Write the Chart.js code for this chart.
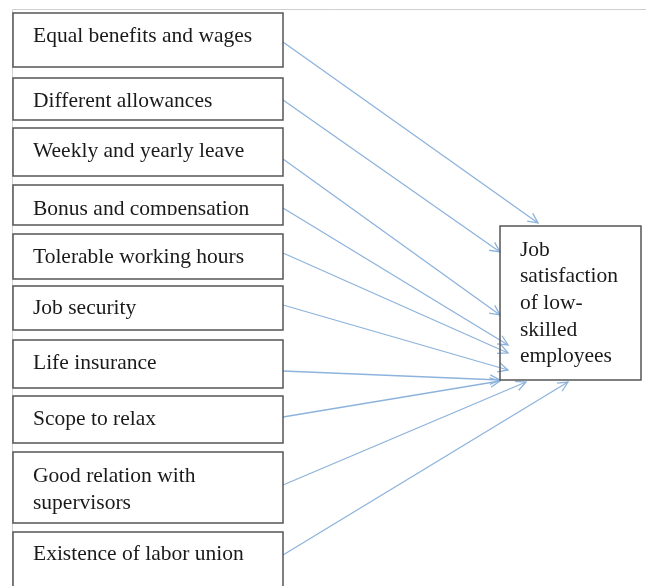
<!DOCTYPE html>
<html>
<head>
<meta charset="utf-8">
<script src="https://cdn.jsdelivr.net/npm/chart.js@4/dist/chart.umd.min.js"></script>
<style>
  html, body { margin: 0; padding: 0; background: #fff; }
  canvas { display: block; }
</style>
</head>
<body>
<canvas id="diagram" width="646" height="586"></canvas>
<script>
// factors (left column), one or more text lines each
const factorLabels = [
    ["Equal benefits and wages"],
    ["Different allowances"],
    ["Weekly and yearly leave"],
    ["Bonus and compensation"],
    ["Tolerable working hours"],
    ["Job security"],
    ["Life insurance"],
    ["Scope to relax"],
    ["Good relation with", "supervisors"],
    ["Existence of labor union"]
];
const outcomeLabel = ["Job", "satisfaction", "of low-", "skilled", "employees"];

// box extents along the vertical axis (diagram units)
const boxTop    = [13, 78, 128, 185, 234, 286, 340, 396, 452, 532];
const boxBottom = [67, 120, 176, 225, 279, 330, 388, 443, 523, 600];
const textY     = [36, 101, 151, 209, 257, 308, 363, 419, 476, 554];

// where each arrow leaves a factor box and where it lands on the outcome box
const arrowFromY = [42, 100, 159, 208, 253, 305, 371, 417, 485, 555];
const arrowToX   = [538, 500, 500, 508, 508, 508, 500, 500, 526, 568];
const arrowToY   = [223, 252, 315, 345, 353, 370, 380, 381, 382, 382];

const leftBox = { x0: 13, x1: 283 };
const outcomeBox = { x0: 500, x1: 641, y0: 226, y1: 380 };

const arrowColor = "#8db3dc";
const boxColor = "#555555";
const textColor = "#1a1a1a";
const serif = "'Liberation Serif', 'Times New Roman', serif";

function arrowDatasets(){
    return arrowFromY.map(function(y, i){
        return {
            label: factorLabels[i].join(" "),
            data: [{x: leftBox.x1, y: y}, {x: arrowToX[i], y: arrowToY[i]}],
            showLine: true,
            borderColor: arrowColor,
            borderWidth: 1.3,
            pointRadius: 0,
            fill: false
        };
    });
}

const boxesPlugin = {
    id: "boxes",
    beforeDatasetsDraw: function(chart){
        const ctx = chart.ctx;
        const sx = chart.scales.x, sy = chart.scales.y;
        ctx.save();
        // light frame along the top and left
        ctx.strokeStyle = "#cfcfcf";
        ctx.lineWidth = 1;
        ctx.beginPath();
        ctx.moveTo(sx.getPixelForValue(646), sy.getPixelForValue(9.5));
        ctx.lineTo(sx.getPixelForValue(12.5), sy.getPixelForValue(9.5));
        ctx.lineTo(sx.getPixelForValue(12.5), sy.getPixelForValue(586));
        ctx.stroke();
        ctx.restore();
    },
    afterDatasetsDraw: function(chart){
        const ctx = chart.ctx;
        const sx = chart.scales.x, sy = chart.scales.y;
        ctx.save();

        // arrowheads (open chevrons)
        ctx.strokeStyle = arrowColor;
        ctx.lineWidth = 1.3;
        arrowFromY.forEach(function(y, i){
            const x0 = sx.getPixelForValue(leftBox.x1), y0 = sy.getPixelForValue(y);
            const x1 = sx.getPixelForValue(arrowToX[i]), y1 = sy.getPixelForValue(arrowToY[i]);
            const a = Math.atan2(y1 - y0, x1 - x0);
            const len = 11, spread = 0.45;
            ctx.beginPath();
            ctx.moveTo(x1 - len * Math.cos(a - spread), y1 - len * Math.sin(a - spread));
            ctx.lineTo(x1, y1);
            ctx.lineTo(x1 - len * Math.cos(a + spread), y1 - len * Math.sin(a + spread));
            ctx.stroke();
        });

        // factor boxes
        ctx.font = "21.5px " + serif;
        ctx.textBaseline = "middle";
        ctx.textAlign = "left";
        factorLabels.forEach(function(lines, i){
            const x = sx.getPixelForValue(leftBox.x0), w = sx.getPixelForValue(leftBox.x1) - x;
            const y = sy.getPixelForValue(boxTop[i]), h = sy.getPixelForValue(boxBottom[i]) - y;
            ctx.fillStyle = "#fff";
            ctx.fillRect(x, y, w, h);
            ctx.strokeStyle = boxColor;
            ctx.lineWidth = 1.5;
            ctx.strokeRect(x, y, w, h);
            ctx.save();
            ctx.beginPath();
            // the original clips the 4th label just above its bottom edge
            const clipBottom = i === 3 ? sy.getPixelForValue(215) : y + h;
            ctx.rect(x, y, w, clipBottom - y);
            ctx.clip();
            ctx.fillStyle = textColor;
            lines.forEach(function(t, k){
                ctx.fillText(t, sx.getPixelForValue(33), sy.getPixelForValue(textY[i] + k * 27));
            });
            ctx.restore();
        });

        // outcome box
        const ox = sx.getPixelForValue(outcomeBox.x0), oy = sy.getPixelForValue(outcomeBox.y0);
        const ow = sx.getPixelForValue(outcomeBox.x1) - ox, oh = sy.getPixelForValue(outcomeBox.y1) - oy;
        ctx.strokeStyle = boxColor;
        ctx.lineWidth = 1.5;
        ctx.strokeRect(ox, oy, ow, oh);
        ctx.fillStyle = textColor;
        outcomeLabel.forEach(function(t, k){
            ctx.fillText(t, sx.getPixelForValue(520), sy.getPixelForValue(250 + k * 26.7));
        });
        ctx.restore();
    }
};

new Chart(document.getElementById("diagram").getContext("2d"), {
    type: "scatter",
    data: { datasets: arrowDatasets() },
    options: {
        responsive: false,
        animation: false,
        layout: { padding: 0 },
        plugins: { legend: { display: false }, tooltip: { enabled: false } },
        scales: {
            x: { type: "linear", min: 0, max: 646, display: false },
            y: { type: "linear", min: 0, max: 586, reverse: true, display: false }
        }
    },
    plugins: [boxesPlugin]
});
</script>
</body>
</html>
